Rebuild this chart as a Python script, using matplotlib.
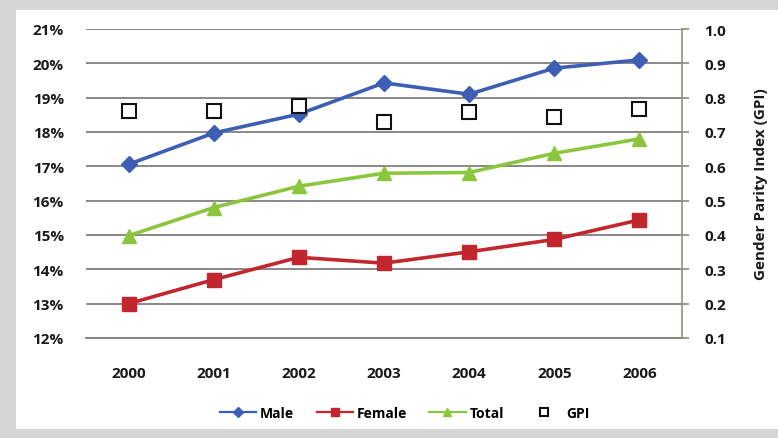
import matplotlib
matplotlib.use("Agg")
import matplotlib.pyplot as plt
from matplotlib.patches import Rectangle
from matplotlib.ticker import FuncFormatter, MultipleLocator

years = ["2000", "2001", "2002", "2003", "2004", "2005", "2006"]
male = [17.06, 17.97, 18.52, 19.43, 19.10, 19.86, 20.10]
female = [13.00, 13.70, 14.35, 14.18, 14.51, 14.87, 15.44]
total = [14.98, 15.80, 16.42, 16.80, 16.82, 17.38, 17.80]
gpi = [0.76, 0.76, 0.775, 0.728, 0.757, 0.745, 0.767]

plt.rcParams["font.family"] = ["Open Sans", "DejaVu Sans"]
plt.rcParams["font.weight"] = "bold"

fig = plt.figure(figsize=(7.78, 4.39), dpi=100, facecolor="#d6d6d6")
fig.patches.append(Rectangle((16 / 778, 9 / 439), 1 - 16 / 778, 1 - 20 / 439,
                             transform=fig.transFigure, facecolor="white",
                             edgecolor="none", zorder=-10))

ax = fig.add_axes([86 / 778, 1 - 339 / 439, 596 / 778, 309 / 439])
ax.set_facecolor("none")
ax.set_zorder(1)
x = list(range(len(years)))

ax.plot(x, male, color="#3d5fb3", lw=2.6, marker="D", ms=8, label="Male", zorder=4)
ax.plot(x, female, color="#c1272d", lw=2.6, marker="s", ms=10, label="Female", zorder=4)
ax.plot(x, total, color="#8cc63f", lw=2.6, marker="^", ms=10, label="Total", zorder=4)

ax.set_xlim(-0.5, len(years) - 0.5)
ax.set_ylim(12, 21)
ax.yaxis.set_major_locator(MultipleLocator(1))
ax.yaxis.set_major_formatter(FuncFormatter(lambda v, p: f"{v:.0f}%"))
ax.set_xticks(x)
ax.set_xticklabels(years)
ax.grid(axis="y", color="#7f7f7f", lw=1.3)
ax.set_axisbelow(True)
for s in ["left", "top", "right"]:
    ax.spines[s].set_visible(False)
ax.spines["bottom"].set_color("#7f7f7f")
ax.spines["bottom"].set_linewidth(1.3)
ax.tick_params(axis="y", length=0, pad=16, labelsize=11, labelcolor="#1a1a1a")
ax.tick_params(axis="x", length=0, pad=20, labelsize=11, labelcolor="#1a1a1a")

ax2 = ax.twinx()
ax2.set_zorder(2)
ax2.set_facecolor("none")
ax2.plot(x, gpi, ls="none", marker="s", ms=10.5, mfc="white", mec="#111111",
         mew=1.5, label="GPI", zorder=5)
ax2.set_ylim(0.1, 1.0)
ax2.yaxis.set_major_locator(MultipleLocator(0.1))
ax2.yaxis.set_major_formatter(FuncFormatter(lambda v, p: f"{v:.1f}"))
for s in ["left", "top", "bottom"]:
    ax2.spines[s].set_visible(False)
ax2.spines["right"].set_color("#8a9a6a")
ax2.spines["right"].set_linewidth(1.2)
ax2.tick_params(axis="y", length=5, width=1.2, color="#8a8a8a", pad=11,
                labelsize=11, labelcolor="#1a1a1a")
ax2.set_ylabel("Gender Parity Index (GPI)", fontsize=11, fontweight="bold",
               labelpad=20, color="#1a1a1a")

h1, l1 = ax.get_legend_handles_labels()
h2, l2 = ax2.get_legend_handles_labels()
leg = fig.legend(h1 + h2, l1 + l2, loc="center", bbox_to_anchor=(405 / 778, 1 - 414 / 439),
                 ncol=4, frameon=False, fontsize=10, handlelength=2.6,
                 columnspacing=1.6, handletextpad=0.3, markerscale=0.6)
for line in leg.get_lines()[:3]:
    line.set_linewidth(1.6)

fig.savefig("out.png", dpi=100, facecolor=fig.get_facecolor())
